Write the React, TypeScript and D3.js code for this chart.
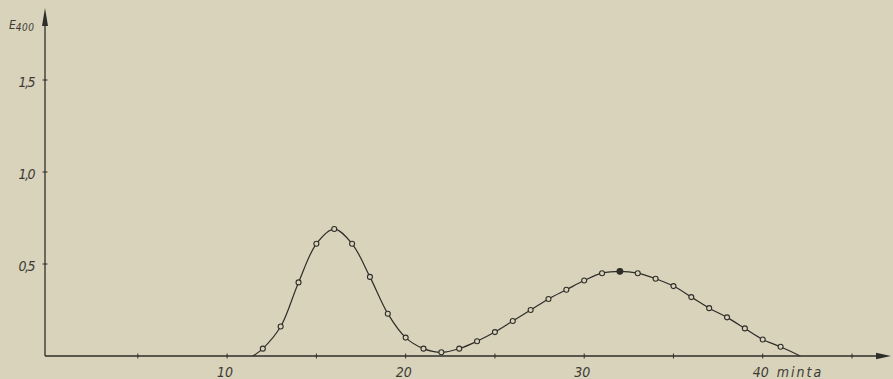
import React, { useEffect, useRef } from "react";
import * as d3 from "d3";

// elution time (min) and absorbance at 400 nm
const minutes = [12, 13, 14, 15, 16, 17, 18, 19, 20, 21, 22, 23, 24, 25, 26, 27, 28, 29, 30, 31, 32, 33, 34, 35, 36, 37, 38, 39, 40, 41];
const absorbance = [0.04, 0.16, 0.4, 0.61, 0.69, 0.61, 0.43, 0.23, 0.1, 0.04, 0.02, 0.04, 0.08, 0.13, 0.19, 0.25, 0.31, 0.36, 0.41, 0.45, 0.46, 0.45, 0.42, 0.38, 0.32, 0.26, 0.21, 0.15, 0.09, 0.05];
// where the drawn curve leaves / returns to the baseline
const curveStart = 11.45;
const curveEnd = 42.1;
const filledPoint = 32;

const xTicks = [5, 10, 15, 20, 25, 30, 35, 40, 45];
const xLabels = ["10", "20", "30", "40"];
const yTicks = [0.5, 1.0, 1.5];
const yLabels = ["0,5", "1,0", "1,5"];

export default function App({ width = 893, height = 379 }) {
  const svgRef = useRef(null);

  useEffect(() => {
    const svg = d3.select(svgRef.current);
    svg.selectAll("*").remove();

    const ink = "#2e2d29";
    const textInk = "#3c3b36";
    const paper = "#d9d3bb";
    const font = "'DejaVu Sans Condensed', 'DejaVu Sans', sans-serif";

    const x = d3.scaleLinear().domain([-0.2, 45]).range([45, 852]);
    const y = d3.scaleLinear().domain([0, 1.5]).range([356, 80]);

    svg.append("rect").attr("width", width).attr("height", height).attr("fill", paper);

    // axes
    const x0 = x(-0.2);
    const y0 = y(0);
    svg.append("line").attr("x1", x0).attr("x2", 880).attr("y1", y0).attr("y2", y0)
      .attr("stroke", ink).attr("stroke-width", 1.3);
    svg.append("path").attr("d", `M891,${y0} L876,${y0 - 3.2} L876,${y0 + 3.2} Z`).attr("fill", ink);
    svg.append("line").attr("x1", x0).attr("x2", x0).attr("y1", y0).attr("y2", 22)
      .attr("stroke", ink).attr("stroke-width", 1.3);
    svg.append("path").attr("d", `M${x0},8 L${x0 - 3},26 L${x0 + 3},26 Z`).attr("fill", ink);

    svg.append("g").selectAll("line").data(xTicks).join("line")
      .attr("x1", d => x(d)).attr("x2", d => x(d))
      .attr("y1", y0 - 2.5).attr("y2", y0 + 2.5)
      .attr("stroke", ink).attr("stroke-width", 1);
    svg.append("g").selectAll("line").data(yTicks).join("line")
      .attr("x1", x0 - 2.5).attr("x2", x0 + 2.5)
      .attr("y1", d => y(d)).attr("y2", d => y(d))
      .attr("stroke", ink).attr("stroke-width", 1);

    // tick labels
    svg.append("g").selectAll("text").data(xLabels).join("text")
      .attr("x", d => x(+d) - 2).attr("y", 377)
      .attr("text-anchor", "middle")
      .attr("font-family", font).attr("font-style", "italic")
      .attr("font-size", 14).attr("fill", textInk)
      .text(d => d);
    svg.append("text").attr("x", x(40) + 14).attr("y", 377)
      .attr("font-family", font).attr("font-style", "italic")
      .attr("font-size", 14).attr("fill", textInk).attr("letter-spacing", 2)
      .text("minta");

    svg.append("g").selectAll("text").data(yTicks).join("text")
      .attr("x", 34).attr("y", d => y(d) + 7)
      .attr("text-anchor", "end")
      .attr("font-family", font).attr("font-style", "italic")
      .attr("font-size", 14).attr("fill", textInk).attr("letter-spacing", -1.5)
      .text((d, i) => yLabels[i]);

    const title = svg.append("text").attr("x", 9).attr("y", 29)
      .attr("font-family", font).attr("font-style", "italic").attr("fill", textInk);
    title.append("tspan").attr("font-size", 12).text("E");
    title.append("tspan").attr("font-size", 10).attr("dy", 2).attr("letter-spacing", 0.5).text("400");

    // curve
    const pts = [[curveStart, 0], ...minutes.map((m, i) => [m, absorbance[i]]), [curveEnd, 0]];
    const line = d3.line().x(d => x(d[0])).y(d => y(d[1])).curve(d3.curveCatmullRom.alpha(0.5));
    svg.append("path").datum(pts)
      .attr("fill", "none").attr("stroke", ink).attr("stroke-width", 1.2)
      .attr("d", line);

    svg.append("g").selectAll("circle").data(minutes).join("circle")
      .attr("cx", d => x(d)).attr("cy", (d, i) => y(absorbance[i]))
      .attr("r", d => (d === filledPoint ? 2.9 : 2.5))
      .attr("fill", d => (d === filledPoint ? ink : paper))
      .attr("stroke", ink).attr("stroke-width", 1.1);
  }, [width, height]);

  return (
    <svg ref={svgRef} width={width} height={height}
      style={{ position: "absolute", left: 0, top: 0, display: "block" }} />
  );
}
